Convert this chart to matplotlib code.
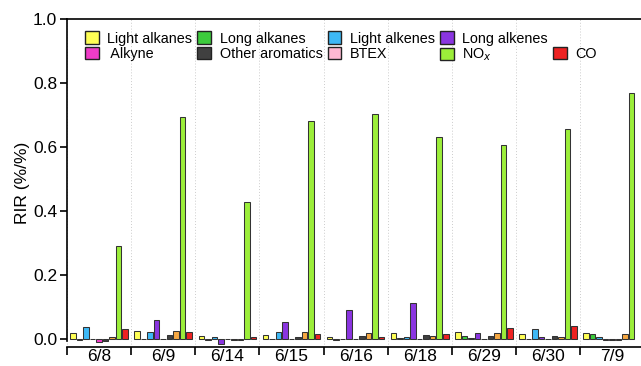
import numpy as np
import matplotlib
matplotlib.use("Agg")
import matplotlib.pyplot as plt
from matplotlib.patches import Patch

plt.rcParams['font.family'] = ['Liberation Sans', 'DejaVu Sans']

dates = ['6/8', '6/9', '6/14', '6/15', '6/16', '6/18', '6/29', '6/30', '7/9']

light_alkanes = [0.018, 0.026, 0.010, 0.012, 0.007, 0.018, 0.022, 0.016, 0.020]
long_alkanes = [-0.002, -0.001, -0.002, -0.001, -0.002, 0.004, 0.010, -0.001, 0.015]
light_alkenes = [0.038, 0.021, 0.007, 0.023, -0.001, 0.005, 0.003, 0.031, 0.007]
long_alkenes = [-0.001, 0.060, -0.015, 0.054, 0.092, 0.114, 0.020, 0.006, -0.003]
alkyne = [-0.009, -0.001, -0.001, -0.001, -0.001, -0.001, -0.001, -0.001, -0.003]
other_aromatics = [-0.007, 0.012, -0.002, 0.006, 0.010, 0.011, 0.010, 0.008, -0.003]
btex = [0.007, 0.025, -0.002, 0.021, 0.019, 0.010, 0.020, 0.006, 0.016]
nox = [0.292, 0.695, 0.427, 0.681, 0.705, 0.631, 0.606, 0.656, 0.769]
co = [0.032, 0.023, 0.007, 0.015, 0.007, 0.015, 0.033, 0.039, np.nan]

series = [light_alkanes, long_alkanes, light_alkenes, long_alkenes, alkyne,
          other_aromatics, btex, nox, co]
bar_colors = ['#FFFF55', '#3CCB3C', '#3DB8F5', '#8A35E0', '#F03CC8',
              '#404040', '#F5A742', '#9CEE3A', '#EE2222']

names = ['Light alkanes', 'Long alkanes', 'Light alkenes', 'Long alkenes',
         ' Alkyne', 'Other aromatics', 'BTEX', r'NO$_x$', 'CO']
legend_colors = ['#FFFF55', '#3CCB3C', '#3DB8F5', '#8A35E0', '#F03CC8',
                 '#404040', '#FFB8D2', '#9CEE3A', '#EE2222']

fig = plt.figure(figsize=(6.41, 3.66), dpi=100)
ax = fig.add_axes([0.1045, 0.0525, 0.9005, 0.8948])

x = np.arange(len(dates))
pitch = 0.1014
width = 0.086
for j, (vals, col) in enumerate(zip(series, bar_colors)):
    ax.bar(x + (j - 4) * pitch, vals, width=width, color=col,
           edgecolor='#333333', linewidth=0.75, zorder=3)

ax.set_xlim(-0.5, len(dates) - 0.5)
ax.set_ylim(-0.0245, 1.0)

# group boundaries carry the tick marks and dotted separators
ax.set_xticks(np.arange(len(dates) + 1) - 0.5)
ax.set_xticklabels([])
ax.set_xticks(x, minor=True)
ax.set_xticklabels(dates, minor=True, fontsize=12.5)
ax.tick_params(axis='x', which='major', direction='out', length=6, width=1.2)
ax.tick_params(axis='x', which='minor', length=0, pad=1.5)
ax.grid(axis='x', which='major', linestyle=(0, (1, 2)), color='#cccccc',
        linewidth=0.7, zorder=0)

ax.set_yticks(np.arange(0, 1.01, 0.2))
ax.set_yticklabels([f'{v:.1f}' for v in np.arange(0, 1.01, 0.2)], fontsize=12.5)
ax.tick_params(axis='y', direction='out', length=5, width=1.2, pad=2)
ax.set_ylabel('RIR (%/%)', fontsize=12.5, labelpad=2)

for side in ['left', 'bottom', 'top']:
    ax.spines[side].set_linewidth(1.2)
ax.spines['right'].set_visible(False)
ax.spines['left'].set_bounds(-0.006, 1.0)

# legend filled column by column: 5 columns x 2 rows
hp = [Patch(facecolor=c, edgecolor='#222222', linewidth=1.0) for c in legend_colors]
blank = Patch(facecolor='none', edgecolor='none')
handles = [hp[0], hp[4], hp[1], hp[5], hp[2], hp[6], hp[3], hp[7], blank, hp[8]]
labels = [names[0], names[4], names[1], names[5], names[2], names[6],
          names[3], names[7], '', names[8]]
ax.legend(handles, labels, ncol=5, loc='upper left',
          bbox_to_anchor=(0.026, 0.972), frameon=False, fontsize=10.4,
          handlelength=0.95, handleheight=0.95, handletextpad=0.6,
          columnspacing=0.35, labelspacing=0.1, borderpad=0.2,
          borderaxespad=0)

fig.savefig('out.png', dpi=100)
